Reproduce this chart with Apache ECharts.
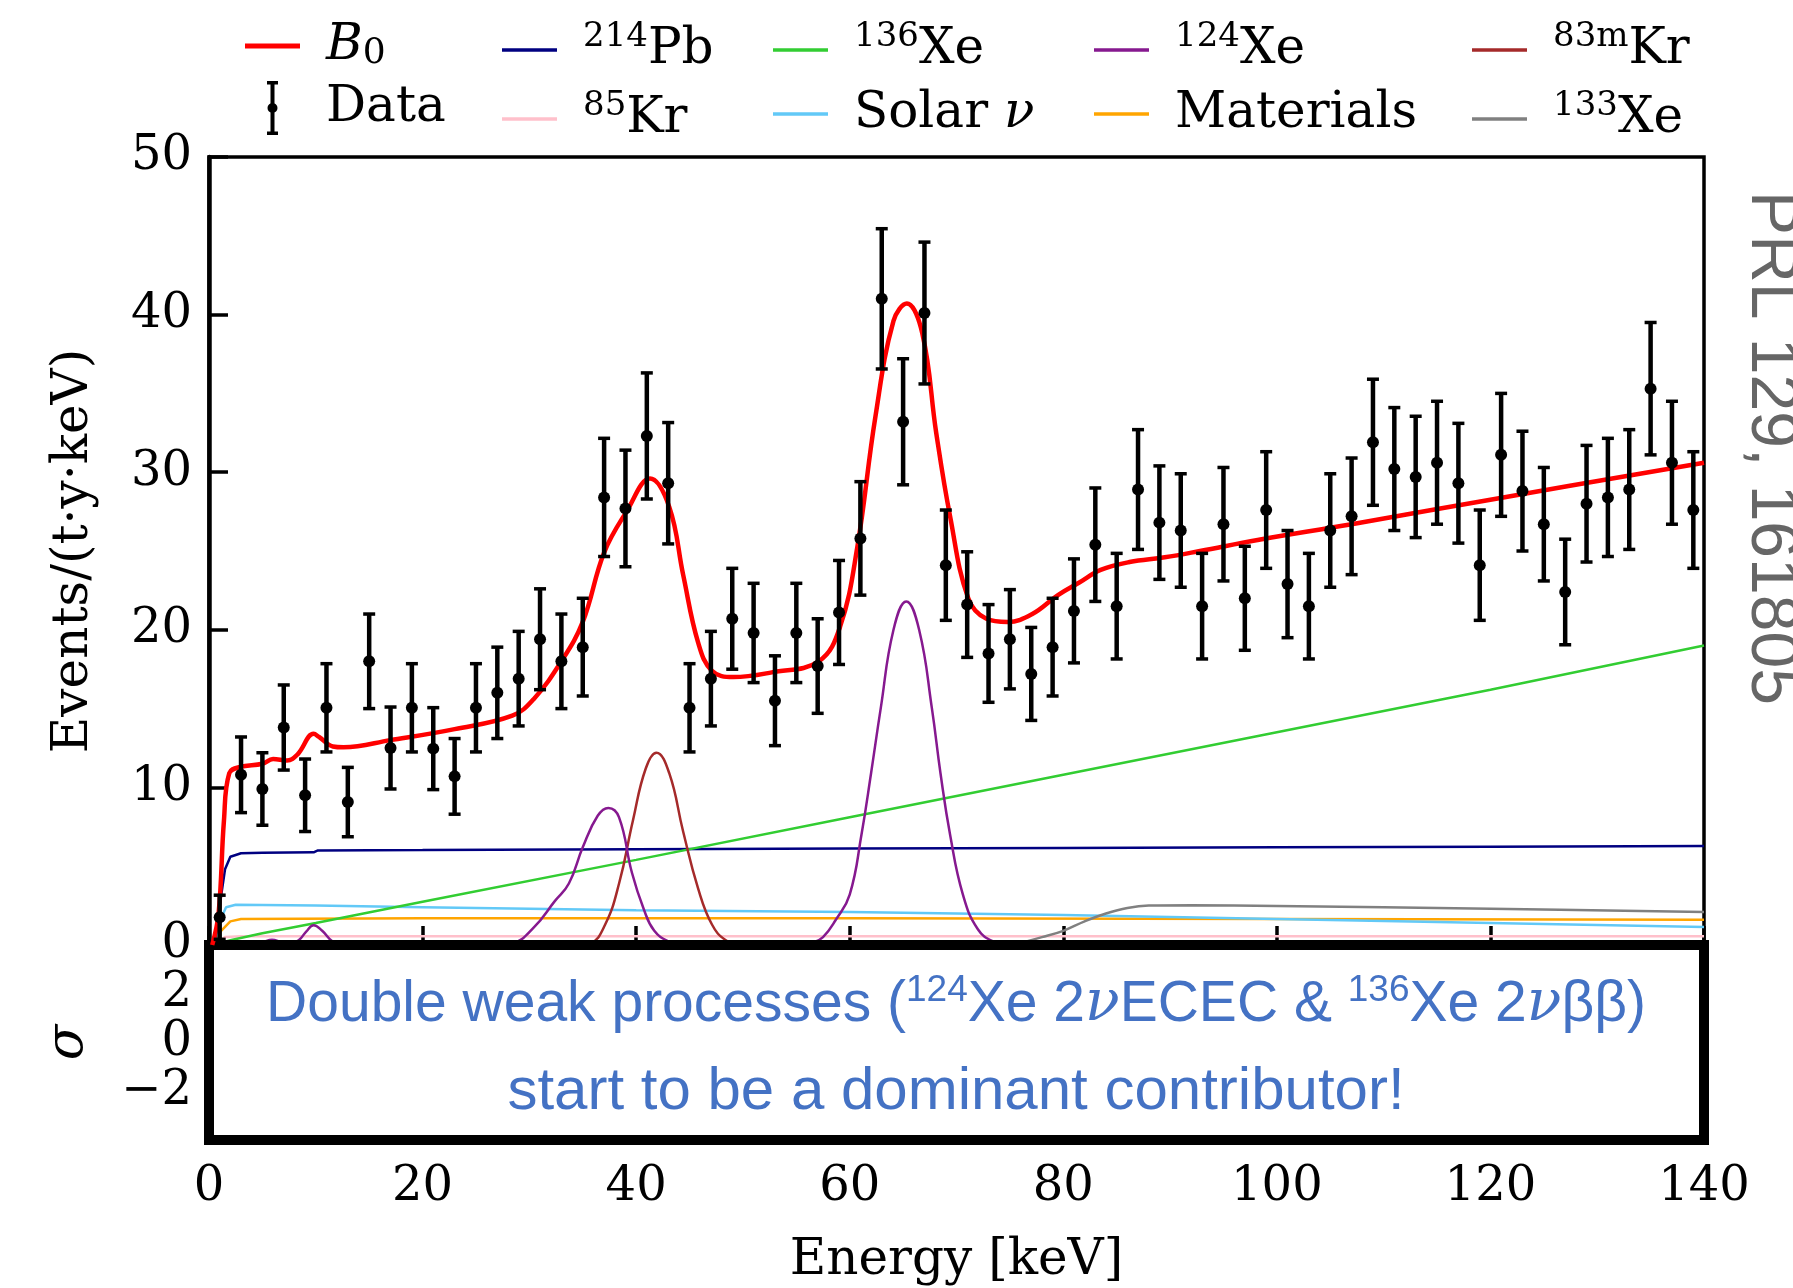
<!DOCTYPE html>
<html>
<head>
<meta charset="utf-8">
<script src="https://cdn.jsdelivr.net/npm/echarts@6/dist/echarts.min.js"></script>
<style>
html,body{margin:0;padding:0;background:#fff;}
#chart{width:1793px;height:1288px;}
</style>
</head>
<body>
<div id="chart"></div>
<script>
// ---------- DATA ----------
const dataE = [1,3,5,7,9,11,13,15,17,19,21,23,25,27,29,31,33,35,37,39,41,43,45,47,49,51,53,55,57,59,61,63,65,67,69,71,73,75,77,79,81,83,85,87,89,91,93,95,97,99,101,103,105,107,109,111,113,115,117,119,121,123,125,127,129,131,133,135,137,139];
const dataY = [1.76,10.8,9.9,13.8,9.5,15.05,9.07,18.0,12.5,15.05,12.46,10.7,15.05,16.0,16.9,19.4,18.0,18.9,28.4,27.7,32.3,29.3,15.05,16.9,20.7,19.8,15.5,19.8,17.7,21.1,25.8,41.0,33.2,40.1,24.1,21.6,18.5,19.4,17.2,18.9,21.2,25.4,21.5,28.9,26.8,26.3,21.5,26.7,22.0,27.6,22.9,21.5,26.3,27.2,31.9,30.2,29.7,30.6,29.3,24.1,31.1,28.8,26.7,22.4,28.0,28.4,28.9,35.3,30.6,27.6];
const dataErr = [1.4,2.4,2.3,2.7,2.3,2.8,2.2,3.0,2.6,2.8,2.6,2.4,2.8,2.9,3.0,3.2,3.0,3.1,3.75,3.7,4.0,3.85,2.8,3.0,3.2,3.15,2.85,3.15,3.0,3.3,3.6,4.45,4.0,4.5,3.5,3.35,3.1,3.15,2.95,3.1,3.3,3.6,3.35,3.8,3.6,3.6,3.35,3.6,3.3,3.7,3.4,3.35,3.6,3.7,4.0,3.9,3.85,3.9,3.8,3.5,3.9,3.8,3.6,3.35,3.7,3.75,3.8,4.2,3.9,3.7];

const curveB0 = [[0.3,0],[0.9,2],[1.4,7.9],[1.9,10.9],[2.9,11.3],[5,11.5],[6,11.8],[7.3,11.7],[8.3,12.1],[9.8,13.4],[10.3,13.2],[11.6,12.6],[12.6,12.55],[17,13.0],[23,13.7],[28.4,14.55],[30.4,15.6],[33,18.0],[35,20.5],[37,24.9],[39.1,27.5],[41.3,29.6],[43.1,27.8],[44.4,23.5],[45.8,19.2],[47.1,17.4],[49.1,17.0],[52.7,17.3],[57.1,18.0],[59.1,20.2],[60.7,25.2],[62.4,33.5],[64.1,39.6],[65.35,40.7],[66.8,38.8],[68.1,32.5],[69.4,27.2],[71.1,22.0],[72.8,20.7],[74.8,20.5],[77.1,21.0],[79.5,22.2],[81.5,23.0],[83.5,23.8],[86.2,24.3],[89.5,24.6],[92.8,25.0],[98.2,25.7],[107,26.7],[121.2,28.4],[140,30.6]];
const curvePb214 = [[0.5,0],[1,2.5],[1.5,4.8],[2,5.6],[3,5.82],[5,5.85],[9.8,5.88],[10.2,6.0],[20,6.02],[40,6.08],[60,6.12],[80,6.16],[100,6.2],[120,6.24],[140,6.28]];
const curveKr85 = [[0.5,0],[1.5,0.5],[3,0.55],[60,0.55],[140,0.55]];
const curveXe136 = [[0.5,0],[2,0.3],[5,0.75],[10,1.4],[20,2.75],[40,5.4],[60,8.1],[80,10.8],[100,13.5],[120,16.2],[140,19.0]];
const curveSolar = [[0.5,0],[1,1.5],[1.6,2.4],[2.5,2.55],[10,2.5],[20,2.4],[40,2.2],[60,2.1],[80,1.9],[100,1.65],[120,1.4],[140,1.15]];
const curveXe124 = [[0,0],[3,0],[4.3,0.05],[5.1,0.2],[5.9,0.33],[6.8,0.18],[7.6,0.1],[8.4,0.3],[9.1,0.85],[9.8,1.26],[10.6,0.9],[11.6,0.2],[12.6,0],[27,0],[28.4,0.1],[30.4,1.1],[32.4,2.8],[33.7,3.9],[35,6.2],[36.4,8.2],[37.4,8.7],[38.4,8.1],[39.6,4.6],[40.7,2.3],[41.7,0.9],[43.1,0.2],[44.4,0],[55.5,0],[56.5,0.15],[57.5,0.5],[58.7,1.6],[60,3.2],[61.1,7.0],[62,10.9],[62.9,15.0],[64.1,20.0],[65.3,21.8],[66.5,20.0],[67.7,15.0],[68.5,10.9],[69.4,7.0],[70.6,3.2],[72,1.0],[73.5,0.2],[75,0],[140,0]];
const curveMaterials = [[0.5,0],[1,0.8],[2,1.5],[3,1.65],[20,1.7],[60,1.7],[100,1.65],[140,1.6]];
const curveKr83m = [[0,0],[34.5,0],[35.7,0.1],[37.1,1.3],[38.4,3.9],[39.7,7.9],[40.9,11.2],[41.9,12.2],[43.1,10.9],[44.4,7.2],[45.8,3.6],[47.1,1.3],[48.4,0.3],[49.8,0],[140,0]];
const curveXe133 = [[0,0],[74,0],[76,0.15],[78,0.5],[80,0.9],[82,1.5],[84,2.0],[86,2.35],[88,2.5],[92,2.52],[100,2.48],[120,2.3],[140,2.1]];

const xTicks = {min:0, max:140, step:20};
const yTicks = {min:0, max:50, step:10};
const resTicks = {min:-4, max:4, step:2};

// ---------- CHART ----------
const SERIF = 'DejaVu Serif';
const SANS = 'Liberation Sans';
const chart = echarts.init(document.getElementById('chart'), null, {renderer:'canvas'});

const LINE_ICON_THICK = 'path://M0,0H55V5H0Z';
const LINE_ICON = 'path://M0,0H55V3.5H0Z';
const ERR_ICON = 'path://M0,0H11V3.5H0Z M3.5,0H7.5V54H3.5Z M0,50.5H11V54H0Z M0.5,27A5,5 0 1,1 10.5,27A5,5 0 1,1 0.5,27Z';

const legendRich = {
  it:{fontStyle:'italic', fontSize:50, fontFamily:SERIF, lineHeight:50, color:'#000'},
  sub:{fontSize:36, fontFamily:SERIF, lineHeight:34, padding:[16,0,0,0], color:'#000'},
  sup:{fontSize:34, fontFamily:SERIF, lineHeight:24, padding:[0,0,26,0], color:'#000'}
};
const legendLabel = {
  'B0':'{it|B}{sub|0}', 'Data':'Data', '214Pb':'{sup|214}Pb', '85Kr':'{sup|85}Kr',
  '136Xe':'{sup|136}Xe', 'Solar ν':'Solar {it|ν}', '124Xe':'{sup|124}Xe',
  'Materials':'Materials', '83mKr':'{sup|83m}Kr', '133Xe':'{sup|133}Xe'
};
const colors = {
  'B0':'#ff0000','Data':'#000000','214Pb':'#000080','85Kr':'#ffc0cb','136Xe':'#32cd32',
  'Solar ν':'#62c9f7','124Xe':'#86198f','Materials':'#ffa500','83mKr':'#a52a2a','133Xe':'#808080'
};
function makeLegend(left, names){
  return {
    orient:'vertical', left:left, top:15, itemWidth:55, itemHeight:54, itemGap:9,
    selectedMode:false,
    data:names.map(n=>({name:n, icon: n==='Data'?ERR_ICON:(n==='B0'?LINE_ICON_THICK:LINE_ICON), itemStyle:{color:colors[n]}})),
    formatter:n=>legendLabel[n],
    textStyle:{fontFamily:SERIF, fontSize:50, lineHeight:50, color:'#000', padding:[0,0,0,21], rich:legendRich}
  };
}

function lineSeries(name, data, width, smooth, z){
  return {name:name, type:'line', data:data, xAxisIndex:0, yAxisIndex:0, showSymbol:false, symbol:'none',
    smooth:smooth, z:z||3, lineStyle:{color:colors[name], width:width}, itemStyle:{color:colors[name]}, animation:false};
}

const option = {
  animation:false,
  backgroundColor:'#ffffff',
  textStyle:{fontFamily:SERIF},
  legend:[
    makeLegend(240, ['B0','Data']),
    makeLegend(497, ['214Pb','85Kr']),
    makeLegend(768, ['136Xe','Solar ν']),
    makeLegend(1089, ['124Xe','Materials']),
    makeLegend(1467, ['83mKr','133Xe'])
  ],
  grid:[
    {left:209, top:157, width:1495, height:788, show:true, borderColor:'#000', borderWidth:3.5, backgroundColor:'transparent', z:1},
    {left:209, top:945, width:1495, height:195, show:true, borderColor:'#000', borderWidth:10, backgroundColor:'#fff', z:4}
  ],
  xAxis:[
    {gridIndex:0, type:'value', min:xTicks.min, max:xTicks.max, interval:xTicks.step,
      axisLabel:{show:false}, axisLine:{show:false}, splitLine:{show:false},
      axisTick:{show:true, inside:true, length:19, lineStyle:{color:'#000', width:3.5}}},
    {gridIndex:1, type:'value', min:xTicks.min, max:xTicks.max, interval:xTicks.step,
      axisLabel:{fontSize:48, fontFamily:SERIF, color:'#000', margin:24}, axisLine:{show:false}, splitLine:{show:false}, axisTick:{show:false},
      name:'Energy [keV]', nameLocation:'middle', nameGap:96, nameTextStyle:{fontSize:50, fontFamily:SERIF, color:'#000'}}
  ],
  yAxis:[
    {gridIndex:0, type:'value', min:yTicks.min, max:yTicks.max, interval:yTicks.step,
      axisLabel:{fontSize:48, fontFamily:SERIF, color:'#000', margin:17}, splitLine:{show:false},
      axisLine:{show:true, lineStyle:{color:'#000', width:4.5}},
      axisTick:{show:true, inside:true, length:19, lineStyle:{color:'#000', width:3.5}},
      name:'Events/(t·y·keV)', nameLocation:'middle', nameGap:110, nameTextStyle:{fontSize:50, fontFamily:SERIF, color:'#000'}},
    {gridIndex:1, type:'value', min:resTicks.min, max:resTicks.max, interval:resTicks.step,
      axisLabel:{fontSize:48, fontFamily:SERIF, color:'#000', margin:17, showMinLabel:false, showMaxLabel:false,
        formatter:v=> v<0 ? '\u2212'+Math.abs(v) : String(v)},
      splitLine:{show:false}, axisLine:{show:false}, axisTick:{show:false},
      name:'σ', nameLocation:'middle', nameGap:115, nameTextStyle:{fontSize:52, fontFamily:SERIF, fontStyle:'italic', color:'#000'}}
  ],
  graphic:[
    {type:'text', x:956, y:1005, z:100, style:{
      text:'Double weak processes ({sup|124}Xe 2{nu|ν}ECEC & {sup|136}Xe 2{nu|ν}ββ)',
      fill:'#4472c4', font:'57px "Liberation Sans"', align:'center', verticalAlign:'middle',
      textAlign:'center', textVerticalAlign:'middle',
      rich:{
        sup:{fontSize:37, fontFamily:SANS, lineHeight:29, padding:[0,0,28,0], fill:'#4472c4'},
        nu:{fontSize:57, fontFamily:SERIF, fontStyle:'italic', lineHeight:57, fill:'#4472c4'}
      }}},
    {type:'text', x:956, y:1092, z:100, style:{
      text:'start to be a dominant contributor!', fill:'#4472c4', font:'60px "Liberation Sans"',
      align:'center', verticalAlign:'middle', textAlign:'center', textVerticalAlign:'middle'}},
    {type:'text', x:1770, y:448, rotation:-Math.PI/2, z:100, style:{
      text:'PRL 129, 161805', fill:'#666666', font:'66px "Liberation Sans"',
      align:'center', verticalAlign:'middle', textAlign:'center', textVerticalAlign:'middle'}}
  ],
  series:[
    lineSeries('85Kr', curveKr85, 2.5, false),
    lineSeries('Materials', curveMaterials, 2.5, false),
    lineSeries('Solar ν', curveSolar, 2.5, false),
    lineSeries('133Xe', curveXe133, 2.5, 0.4),
    lineSeries('214Pb', curvePb214, 2.5, false),
    lineSeries('136Xe', curveXe136, 2.5, false),
    lineSeries('83mKr', curveKr83m, 2.5, 0.45),
    lineSeries('124Xe', curveXe124, 2.5, 0.45),
    lineSeries('B0', curveB0, 4.5, 0.4, 5),
    {name:'Data', type:'custom', xAxisIndex:0, yAxisIndex:0, z:6, clip:true,
      data:dataE.map((e,i)=>[e, dataY[i], dataErr[i]]),
      encode:{x:0, y:1},
      itemStyle:{color:'#000'},
      renderItem:function(params, api){
        const x = api.value(0), y = api.value(1), e = api.value(2);
        const top = api.coord([x, y+e]);
        const bot = api.coord([x, Math.max(0, y-e)]);
        const hw = 6;
        return {type:'group', children:[
          {type:'line', shape:{x1:top[0], y1:top[1], x2:bot[0], y2:bot[1]}, style:{stroke:'#000', lineWidth:4.5}},
          {type:'line', shape:{x1:top[0]-hw, y1:top[1], x2:top[0]+hw, y2:top[1]}, style:{stroke:'#000', lineWidth:3.5}},
          {type:'line', shape:{x1:bot[0]-hw, y1:bot[1], x2:bot[0]+hw, y2:bot[1]}, style:{stroke:'#000', lineWidth:3.5}}
        ]};
      }},
    {name:'Data', type:'scatter', xAxisIndex:0, yAxisIndex:0, z:7, symbolSize:12,
      data:dataE.map((e,i)=>[e, dataY[i]]), itemStyle:{color:'#000', opacity:1}}
  ]
};
chart.setOption(option);
</script>
</body>
</html>
